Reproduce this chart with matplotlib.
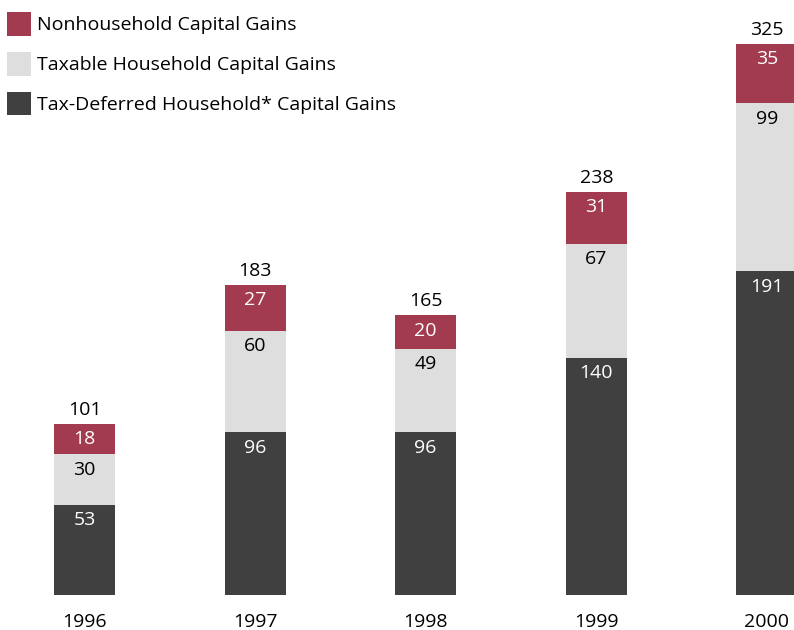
import numpy as np
import matplotlib
matplotlib.use("Agg")
import matplotlib.pyplot as plt

years = ["1996", "1997", "1998", "1999", "2000"]
tax_deferred = [53, 96, 96, 140, 191]
taxable = [30, 60, 49, 67, 99]
nonhousehold = [18, 27, 20, 31, 35]

plt.rcParams['font.family'] = ['Open Sans', 'DejaVu Sans']

red = "#A23B4F"
light = "#DEDEDE"
dark = "#404040"

fig = plt.figure(figsize=(7.94, 6.30), dpi=100)
ax = fig.add_axes([0, 0, 1, 1])

x = np.arange(len(years))
width = 0.357
bottom2 = np.array(tax_deferred)
bottom3 = bottom2 + np.array(taxable)
totals = bottom3 + np.array(nonhousehold)

b1 = ax.bar(x, tax_deferred, width=width, color=dark, label="Tax-Deferred Household* Capital Gains")
b2 = ax.bar(x, taxable, width=width, bottom=bottom2, color=light, label="Taxable Household Capital Gains")
b3 = ax.bar(x, nonhousehold, width=width, bottom=bottom3, color=red, label="Nonhousehold Capital Gains")

fs = 14
for i in range(len(years)):
    ax.annotate(str(tax_deferred[i]), (x[i], bottom2[i]), xytext=(0, -4.5), textcoords="offset points",
                ha="center", va="top", color="white", fontsize=fs)
    ax.annotate(str(taxable[i]), (x[i], bottom3[i]), xytext=(0, -4.5), textcoords="offset points",
                ha="center", va="top", color="black", fontsize=fs)
    ax.annotate(str(nonhousehold[i]), (x[i], totals[i]), xytext=(0, -4.5), textcoords="offset points",
                ha="center", va="top", color="white", fontsize=fs)
    ax.annotate(str(totals[i]), (x[i], totals[i]), xytext=(0, 3.5), textcoords="offset points",
                ha="center", va="bottom", color="black", fontsize=fs)
    ax.annotate(years[i], (x[i], 0), xytext=(0, -13), textcoords="offset points",
                ha="center", va="top", color="black", fontsize=fs)

ax.set_xlim(-0.495, 4.159)
ax.set_ylim(-20.6, 351.0)
ax.axis("off")

ax.legend(handles=[b3, b2, b1], loc="upper left", bbox_to_anchor=(7 / 794, 1 - 12 / 630),
          bbox_transform=fig.transFigure, frameon=False, fontsize=fs, borderpad=0,
          borderaxespad=0, handlelength=1.24, handleheight=1.5, handletextpad=0.3,
          labelspacing=0.83)

fig.savefig("out.png", dpi=100)
